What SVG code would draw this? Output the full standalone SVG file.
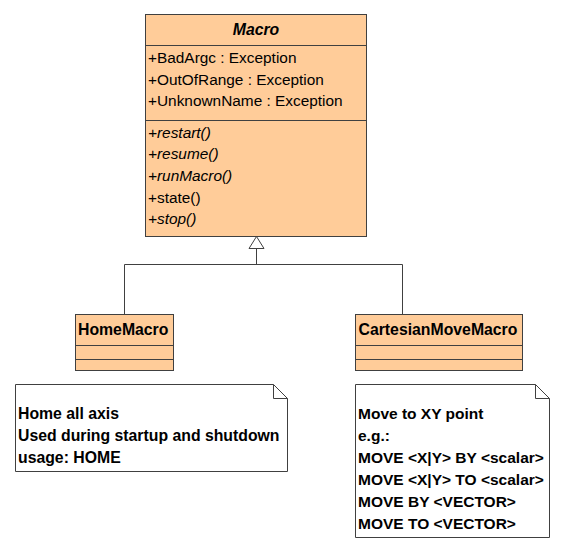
<svg xmlns="http://www.w3.org/2000/svg" width="568" height="552" viewBox="0 0 568 552">
<style>
.cls{fill:#FFCC99;stroke:#404040;stroke-width:1}
.note{fill:#FFFFFF;stroke:#404040;stroke-width:1}
.ln{stroke:#404040;stroke-width:1;fill:none}
text{font-family:"Liberation Sans",Arial,sans-serif;font-size:15.4px;fill:#000}
.b{font-weight:bold;font-size:15.8px}
.n2{font-size:15.5px}
.i{font-style:italic}
</style>
<rect width="568" height="552" fill="#FFFFFF"/>
<g id="connectors">
<path class="ln" d="M124.5 314.5V264.5H402.5V314.5M256.5 264.5V248.5"/>
<path class="ln" d="M256.5 236.5L249 248.5H264Z" style="fill:#FFFFFF"/>
</g>
<g id="Macro">
<rect class="cls" x="145.5" y="14.5" width="221" height="222"/>
<path class="ln" d="M145.5 45.5H366.5M145.5 120.5H366.5"/>
<text class="b i" x="256" y="35" text-anchor="middle">Macro</text>
<text x="148" y="63">+BadArgc : Exception</text>
<text x="148" y="84.7">+OutOfRange : Exception</text>
<text x="148" y="106.4">+UnknownName : Exception</text>
<text class="i" x="148" y="137.5">+restart()</text>
<text class="i" x="148" y="159.2">+resume()</text>
<text class="i" x="148" y="180.9">+runMacro()</text>
<text x="148" y="202.6">+state()</text>
<text class="i" x="148" y="224.3">+stop()</text>
</g>
<g id="HomeMacro">
<rect class="cls" x="75.5" y="314.5" width="98" height="56"/>
<path class="ln" d="M75.5 345.5H173.5M75.5 359.5H173.5"/>
<text class="b" x="78" y="334.5">HomeMacro</text>
</g>
<g id="CartesianMoveMacro">
<rect class="cls" x="355.5" y="314.5" width="167" height="56"/>
<path class="ln" d="M355.5 345.5H522.5M355.5 359.5H522.5"/>
<text class="b" x="358.5" y="334.5">CartesianMoveMacro</text>
</g>
<g id="note1">
<path class="note" d="M15.5 384.5H273.5L287.5 398.5V471.5H15.5Z"/>
<path class="ln" d="M273.5 384.5V398.5H287.5"/>
<text class="b" x="18" y="419">Home all axis</text>
<text class="b" x="18" y="441">Used during startup and shutdown</text>
<text class="b" x="18" y="463">usage: HOME</text>
</g>
<g id="note2">
<path class="note" d="M355.5 384.5H535.5L549.5 398.5V537.5H355.5Z"/>
<path class="ln" d="M535.5 384.5V398.5H549.5"/>
<text class="b n2" x="358" y="419">Move to XY point</text>
<text class="b n2" x="358" y="441">e.g.:</text>
<text class="b n2" x="358" y="463">MOVE &lt;X|Y&gt; BY &lt;scalar&gt;</text>
<text class="b n2" x="358" y="485">MOVE &lt;X|Y&gt; TO &lt;scalar&gt;</text>
<text class="b n2" x="358" y="507">MOVE BY &lt;VECTOR&gt;</text>
<text class="b n2" x="358" y="529">MOVE TO &lt;VECTOR&gt;</text>
</g>
</svg>
